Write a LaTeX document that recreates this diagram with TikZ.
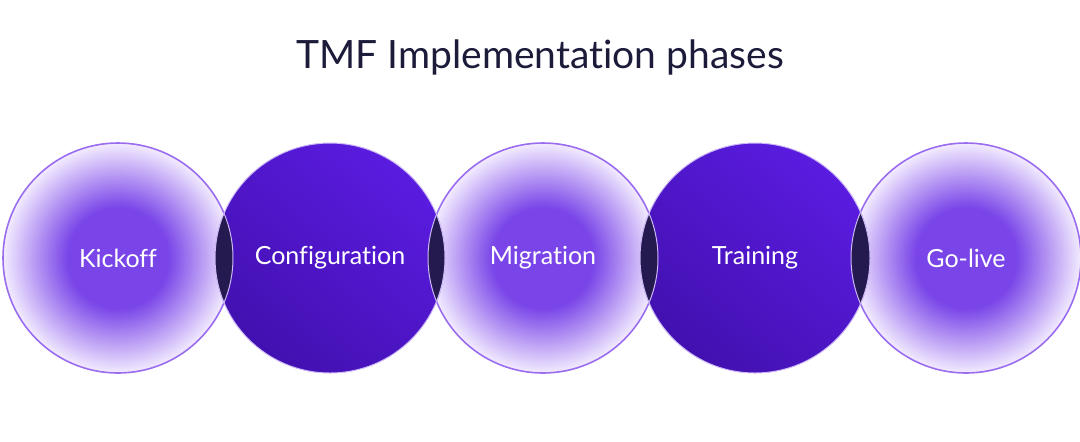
\documentclass[tikz,border=0pt]{standalone}
\usepackage{fontspec}
\setmainfont{Lato}[Ligatures=NoCommon]
\usepackage{tikz}
\usetikzlibrary{positioning}
\definecolor{titleink}{HTML}{1C1B3A}
\definecolor{glowcore}{HTML}{7A45E8}
\definecolor{glowedge}{HTML}{F3ECFF}
\definecolor{deepA}{HTML}{5A1CE0}
\definecolor{deepB}{HTML}{4210B0}
\definecolor{lensfill}{HTML}{241A50}
\definecolor{ringlight}{HTML}{9A6CF0}
\definecolor{ringpale}{HTML}{CDB8F7}
\pgfdeclareradialshading{glow}{\pgfpoint{0bp}{0bp}}{%
  color(0bp)=(glowcore); color(11bp)=(glowcore); color(25bp)=(glowedge); color(50bp)=(glowedge)}
\tikzset{
    phase/.style={circle, minimum size=115pt, inner sep=0pt, text=white, font=\fontsize{12.5}{15}\selectfont},
    soft/.style={phase, shading=glow, draw=ringlight, line width=0.8pt},
    solid/.style={phase, top color=deepA, bottom color=deepB, shading angle=-40, draw=ringpale, line width=0.5pt},
}
\begin{document}
\begin{tikzpicture}[x=0.5pt, y=-0.5pt]
	\useasboundingbox (0,0) rectangle (1080,441);
	\node[font=\fontsize{19.5}{23}\selectfont, text=titleink] (title) at (540,57) {TMF Implementation phases};
	\node[soft] (kickoff) at (118,258) {Kickoff};
	\node[soft] (migration) at (543,258) {Migration};
	\node[soft] (golive) at (966,258) {Go-live};
	\node[solid] (config) at (330,258) {Configuration};
	\node[solid] (training) at (755,258) {Training};
	% overlaps
	\foreach \a/\b in {kickoff/config, config/migration, migration/training, training/golive}{
		\begin{scope}
			\clip (\a.center) circle (115);
			\fill[lensfill] (\b.center) circle (115);
		\end{scope}
		\begin{scope}
			\clip (\a.center) circle (115);
			\draw[ringpale, line width=0.5pt] (\b.center) circle (115);
		\end{scope}
		\begin{scope}
			\clip (\b.center) circle (115);
			\draw[ringpale, line width=0.5pt] (\a.center) circle (115);
		\end{scope}
	}
\end{tikzpicture}
\end{document}
